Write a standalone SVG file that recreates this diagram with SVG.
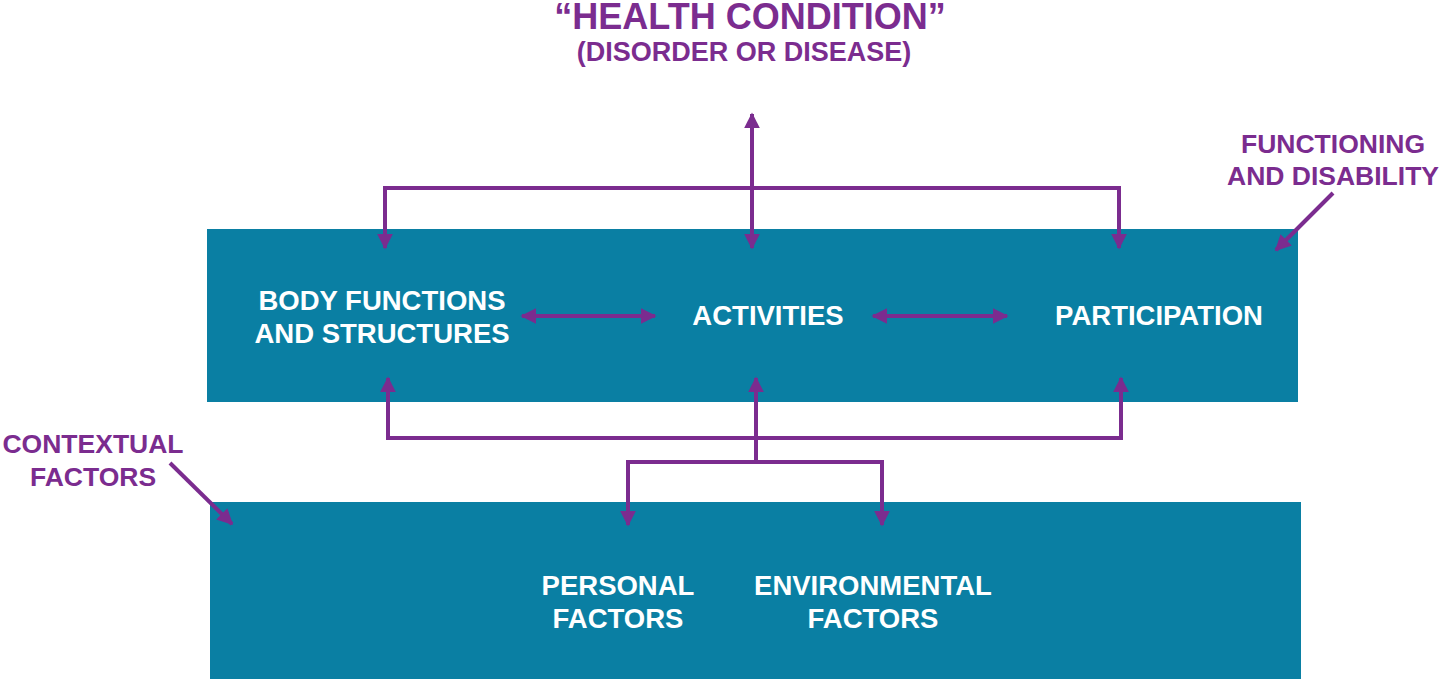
<svg xmlns="http://www.w3.org/2000/svg" width="1440" height="679" viewBox="0 0 1440 679">
<style>
.box{fill:#0a7fa3}
.w{font-family:"Liberation Sans",Arial,sans-serif;font-weight:bold;fill:#ffffff;font-size:27.5px;text-anchor:middle}
.p{font-family:"Liberation Sans",Arial,sans-serif;font-weight:bold;fill:#7b2c8f;text-anchor:middle}
.c{stroke:#7b2c8f;stroke-width:4;fill:none}
</style>
<defs>
<marker id="ah" viewBox="0 0 10 10" refX="9" refY="5" markerWidth="4" markerHeight="4" orient="auto-start-reverse" markerUnits="strokeWidth">
<path d="M0,0 L10,5 L0,10 z" fill="#7b2c8f"/>
</marker>
</defs>
<rect width="1440" height="679" fill="#ffffff"/>
<g id="title">
<text class="p" x="750" y="29" font-size="36">“HEALTH CONDITION”</text>
<text class="p" x="744" y="61" font-size="27">(DISORDER OR DISEASE)</text>
</g>
<g id="functioning-box">
<rect class="box" x="207" y="229" width="1091" height="173"/>
</g>
<g id="contextual-box">
<rect class="box" x="210" y="502" width="1091" height="177"/>
</g>
<g id="body">
<text class="w" x="382" y="310">BODY FUNCTIONS</text>
<text class="w" x="382" y="343">AND STRUCTURES</text>
</g>
<g id="activities">
<text class="w" x="768" y="325">ACTIVITIES</text>
</g>
<g id="participation">
<text class="w" x="1159" y="325">PARTICIPATION</text>
</g>
<g id="personal">
<text class="w" x="618" y="595">PERSONAL</text>
<text class="w" x="618" y="628">FACTORS</text>
</g>
<g id="environmental">
<text class="w" x="873" y="595">ENVIRONMENTAL</text>
<text class="w" x="873" y="628">FACTORS</text>
</g>
<g id="functioning-label">
<text class="p" x="1333" y="153" font-size="26.5">FUNCTIONING</text>
<text class="p" x="1333" y="185" font-size="26.5">AND DISABILITY</text>
</g>
<g id="contextual-label">
<text class="p" x="93" y="453" font-size="26.5">CONTEXTUAL</text>
<text class="p" x="93" y="486" font-size="26.5">FACTORS</text>
</g>
<g id="connectors">
<line class="c" x1="752" y1="248" x2="752" y2="114" marker-start="url(#ah)" marker-end="url(#ah)"/>
<polyline class="c" points="385,248 385,188 1119,188 1119,248" marker-start="url(#ah)" marker-end="url(#ah)"/>
<line class="c" x1="522" y1="316" x2="655" y2="316" marker-start="url(#ah)" marker-end="url(#ah)"/>
<line class="c" x1="873" y1="316" x2="1007" y2="316" marker-start="url(#ah)" marker-end="url(#ah)"/>
<polyline class="c" points="388,378 388,438 1121,438 1121,378" marker-start="url(#ah)" marker-end="url(#ah)"/>
<line class="c" x1="756" y1="462" x2="756" y2="378" marker-end="url(#ah)"/>
<polyline class="c" points="628,525 628,462 882,462 882,525" marker-start="url(#ah)" marker-end="url(#ah)"/>
<line class="c" x1="1333" y1="193" x2="1276" y2="250" marker-end="url(#ah)"/>
<line class="c" x1="170" y1="463" x2="232" y2="524" marker-end="url(#ah)"/>
</g>
</svg>
